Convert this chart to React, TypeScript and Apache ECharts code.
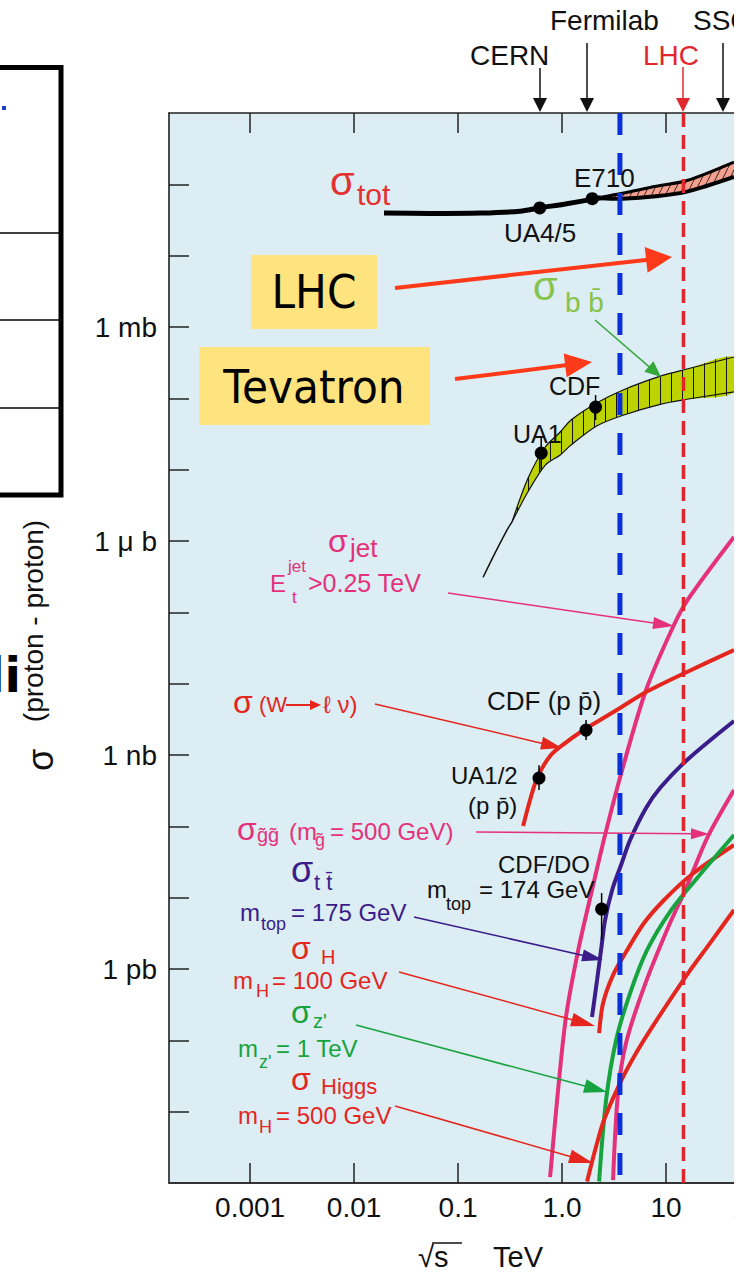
import React, { useEffect, useRef } from 'react';
import * as echarts from 'echarts';

const FONT = "'Liberation Sans', Arial, Helvetica, sans-serif";
const FONT_BOX = "'DejaVu Sans', Verdana, sans-serif";

// ---------- axes ----------
const X_MIN = 1.66e-4;
const X_MAX = 45;
const Y_MIN = 1e-12;
const Y_MAX = 1e3;
const X_TICKS = [0.001, 0.01, 0.1, 1, 10];
const X_TICK_LABELS = ['0.001', '0.01', '0.1', '1.0', '10'];
const Y_TICKS = [1e-11, 1e-10, 1e-9, 1e-8, 1e-7, 1e-6, 1e-5, 1e-4, 1e-3, 1e-2, 1e-1, 1, 10, 100];
const Y_LABEL_VALUES = [1e-9, 1e-6, 1e-3, 1];
const Y_LABELS = ['1 pb', '1 nb', '1 \u03bc b', '1 mb'];

// ---------- vertical reference lines (TeV) ----------
const BLUE_LINE_X = 3.6;
const RED_LINE_X = 14.7;

// ---------- sigma_tot (mb) ----------
const TOT_X = [0.0194, 0.054, 0.166, 0.394, 0.6, 1.07, 1.99, 2.37];
const TOT_Y = [39.6, 39, 39.6, 42, 46.6, 53, 62, 65];
const TOT_BAND_X = [2.37, 3.8, 8.0, 15.9, 45];
const TOT_BAND_UP = [66, 75, 94, 113, 205];
const TOT_BAND_LO = [64, 63, 68, 79, 127];

// ---------- sigma_bb (mb) ----------
const BB_TAIL_X = [0.174, 0.227, 0.296, 0.33];
const BB_TAIL_Y = [3.1e-4, 6.8e-4, 1.43e-3, 1.85e-3];
const BB_X = [0.33, 0.47, 0.69, 0.96, 1.22, 2.15, 3.86, 8.96, 15.9, 45];
const BB_UP = [1.85e-3, 7.6e-3, 2.08e-2, 3.37e-2, 4.97e-2, 8.6e-2, 0.131, 0.206, 0.258, 0.38];
const BB_LO = [1.85e-3, 4.9e-3, 1.16e-2, 1.61e-2, 2.22e-2, 4.1e-2, 5.8e-2, 8.3e-2, 9.7e-2, 0.123];

// ---------- sigma_jet ----------
const JET_X = [0.767, 0.896, 1.09, 1.43, 1.94, 2.59, 3.78, 6.42, 11.9, 16.6, 45];
const JET_Y = [1.21e-12, 1.46e-11, 2.12e-10, 1.84e-9, 1.28e-8, 7.55e-8, 6.16e-7, 8.15e-6, 6.64e-5, 1.59e-4, 1.14e-3];

// ---------- sigma(W -> l nu) ----------
const W_X = [0.422, 0.492, 0.575, 0.767, 1.07, 1.56, 2.32, 3.61, 6.42, 15.9, 45];
const W_Y = [1.01e-7, 2.34e-7, 4.75e-7, 9.7e-7, 1.47e-6, 2.17e-6, 3.09e-6, 4.56e-6, 7.64e-6, 1.46e-5, 2.96e-5];

// ---------- sigma_tt ----------
const TT_X = [1.94, 2.17, 2.37, 2.59, 3.03, 3.69, 4.51, 6.42, 8.75, 15.9, 45];
const TT_Y = [2.12e-10, 7.0e-10, 1.84e-9, 4.86e-9, 1.28e-8, 2.87e-8, 6.43e-8, 1.81e-7, 3.44e-7, 8.51e-7, 3.0e-6];

// ---------- sigma_H (100 GeV) ----------
const H_X = [2.27, 2.48, 3.09, 4.12, 6.14, 9.57, 17.4, 45];
const H_Y = [1.26e-10, 3.33e-10, 8.22e-10, 1.73e-9, 4.41e-9, 9.27e-9, 2.08e-8, 5.47e-8];

// ---------- sigma_Z' ----------
const Z_X = [2.27, 2.65, 3.31, 4.51, 6.56, 11.2, 20.3, 45];
const Z_Y = [1.05e-12, 1.46e-11, 1.01e-10, 4.6e-10, 1.84e-9, 6.71e-9, 1.95e-8, 7.55e-8];

// ---------- sigma_Higgs (500 GeV) ----------
const HG_X = [1.74, 2.08, 2.53, 3.61, 5.15, 7.67, 16.3, 26.5, 45];
const HG_Y = [1.05e-12, 2.9e-12, 7.63e-12, 2.52e-11, 6.63e-11, 1.69e-10, 8.77e-10, 2.31e-9, 6.71e-9];

// ---------- sigma_gluino ----------
const GG_X = [3.09, 3.45, 4.12, 6.14, 10.5, 15.6, 24.8, 45];
const GG_Y = [1.1e-12, 1.82e-11, 9.16e-11, 5.58e-10, 3.88e-9, 1.36e-8, 6.86e-8, 3.23e-7];

// ---------- measured points (UA4/5, E710, UA1, CDF, UA1/2, CDF, CDF/D0) ----------
const PT_X = [0.61, 1.95, 0.63, 2.1, 0.6, 1.7, 2.4];
const PT_Y = [46.6, 63, 1.71e-2, 7.55e-2, 4.75e-7, 2.24e-6, 6.93e-9];
const PT_LO = [46.6, 63, 9.9e-3, 4.97e-2, 3.23e-7, 1.62e-6, 2.55e-9];
const PT_HI = [46.6, 63, 2.78e-2, 0.111, 7.2e-7, 3.09e-6, 1.16e-8];

const PINK = '#E5317B';
const RED = '#E4261F';
const PURPLE = '#3A1C8A';
const GREEN = '#17A33E';

function makeHatch(kind: string): HTMLCanvasElement {
  const c = document.createElement('canvas');
  const g = c.getContext('2d') as CanvasRenderingContext2D;
  if (kind === 'vert') {
    c.width = 11; c.height = 4;
    g.strokeStyle = '#111'; g.lineWidth = 1;
    g.beginPath(); g.moveTo(0.5, 0); g.lineTo(0.5, 4); g.stroke();
  } else {
    c.width = 7; c.height = 14;
    g.strokeStyle = '#3a2020'; g.lineWidth = 1;
    g.beginPath(); g.moveTo(0, 14); g.lineTo(7, 0); g.stroke();
  }
  return c;
}

function findLabel(v: number, vals: number[], labels: string[]) {
  const i = vals.findIndex((t) => Math.abs(Math.log10(t) - Math.log10(v)) < 1e-6);
  return i >= 0 ? labels[i] : '';
}

function lineSeries(X: number[], Y: number[], color: string, width: number, z = 3) {
  return {
    type: 'line',
    data: X.map((x, i) => [x, Y[i]]),
    symbol: 'none',
    showSymbol: false,
    smooth: 0.3,
    lineStyle: { color, width },
    itemStyle: { color },
    clip: true,
    silent: true,
    z,
  };
}

function bandSeries(X: number[], U: number[], L: number[], fill: string, hatch: any, stroke: string, upW: number, loW: number) {
  return {
    type: 'custom',
    silent: true,
    clip: true,
    z: 2,
    data: [[X[0], U[0]]],
    renderItem: (params: any, api: any) => {
      const up = X.map((x, i) => api.coord([x, U[i]]));
      const lo = X.map((x, i) => api.coord([x, L[i]]));
      const poly = up.concat(lo.slice().reverse());
      const children: any[] = [
        { type: 'polygon', shape: { points: poly, smooth: 0.3 }, style: { fill, stroke: 'none' } },
        { type: 'polygon', shape: { points: poly, smooth: 0.3 }, style: { fill: hatch, stroke: 'none' } },
        { type: 'polyline', shape: { points: up, smooth: 0.3 }, style: { stroke, lineWidth: upW, fill: 'none' } },
        { type: 'polyline', shape: { points: lo, smooth: 0.3 }, style: { stroke, lineWidth: loW, fill: 'none' } },
      ];
      return { type: 'group', children };
    },
  };
}

function T(text: string, x: number, y: number, size: number, color: string, o: any = {}) {
  const align = o.align || 'left';
  const el: any = {
    type: 'text',
    x,
    y,
    z: 60,
    silent: true,
    style: {
      text,
      fill: color,
      font: `${o.weight || 'normal'} ${size}px ${o.family || FONT}`,
      align,
      textAlign: align,
      verticalAlign: 'middle',
      textVerticalAlign: 'middle',
    },
  };
  if (o.rotation) el.rotation = o.rotation;
  if (o.scaleX) el.scaleX = o.scaleX;
  return el;
}

function L(x1: number, y1: number, x2: number, y2: number, color: string, w: number) {
  return { type: 'line', z: 60, silent: true, shape: { x1, y1, x2, y2 }, style: { stroke: color, lineWidth: w } };
}

function arrow(x1: number, y1: number, tx: number, ty: number, len: number, half: number, color: string, w: number) {
  const dx = tx - x1, dy = ty - y1;
  const d = Math.hypot(dx, dy);
  const ux = dx / d, uy = dy / d;
  const bx = tx - ux * len, by = ty - uy * len;
  const nx = -uy, ny = ux;
  return [
    L(x1, y1, bx + ux * 2, by + uy * 2, color, w),
    {
      type: 'polygon', z: 60, silent: true,
      shape: { points: [[tx, ty], [bx + nx * half, by + ny * half], [bx - nx * half, by - ny * half]] },
      style: { fill: color },
    },
  ];
}

function vArrow(x: number, y0: number, color: string) {
  return [
    L(x, y0, x, 100, color, 1.5),
    { type: 'polygon', z: 60, silent: true, shape: { points: [[x, 112], [x - 7, 98], [x + 7, 98]] }, style: { fill: color } },
  ];
}

function buildGraphic() {
  const g: any[] = [];
  // left table fragment
  g.push({ type: 'rect', z: 60, silent: true, shape: { x: -10, y: 67.5, width: 71, height: 427.5 }, style: { fill: '#fff', stroke: '#000', lineWidth: 5 } });
  g.push(L(0, 233, 59, 233, '#000', 1.5), L(0, 320, 59, 320, '#000', 1.5), L(0, 408, 59, 408, '#000', 1.5));
  g.push({ type: 'rect', z: 61, silent: true, shape: { x: 2, y: 106, width: 4, height: 4 }, style: { fill: '#1E3EC8' } });
  g.push(T('di', 21, 675, 48, '#000', { align: 'right', family: FONT_BOX, weight: 'bold' }));

  // y axis title
  g.push(T('\u03c3', 40, 760, 36, '#111', { align: 'center', rotation: Math.PI / 2 }));
  g.push(T('(proton - proton)', 33, 621, 28, '#111', { align: 'center', rotation: Math.PI / 2 }));

  // x axis title
  g.push(T('\u221as', 418, 1257, 29, '#111'));
  g.push(L(432, 1243, 462, 1243, '#111', 1.5));
  g.push(T('TeV', 493, 1257, 29, '#111'));
  g.push(T('100', 732, 1208, 28, '#111'));

  // top machine labels and arrows
  g.push(T('CERN', 470, 55, 28, '#111'));
  g.push(T('Fermilab', 550, 20, 28, '#111'));
  g.push(T('LHC', 643, 55, 28, '#E0282E'));
  g.push(T('SSC', 693, 20, 28, '#111'));
  g.push(...vArrow(540, 68, '#111'), ...vArrow(587, 43, '#111'), ...vArrow(683, 67, '#E0282E'), ...vArrow(723, 43, '#111'));

  // sigma_tot
  g.push(T('\u03c3', 330, 181, 40, '#E53030'));
  g.push(T('tot', 357, 194, 30, '#E53030'));
  g.push(T('E710', 574, 178, 26, '#111'));
  g.push(T('UA4/5', 504, 233, 26, '#111'));

  // yellow boxes
  g.push({ type: 'rect', z: 58, silent: true, shape: { x: 251, y: 255, width: 126, height: 74 }, style: { fill: '#FFE37F' } });
  g.push({ type: 'rect', z: 58, silent: true, shape: { x: 199, y: 347, width: 231, height: 78 }, style: { fill: '#FFE37F' } });
  g.push(T('LHC', 314, 292, 47, '#000', { align: 'center', family: FONT_BOX, scaleX: 0.9 }));
  g.push(T('Tevatron', 314, 387, 47, '#000', { align: 'center', family: FONT_BOX, scaleX: 0.9 }));
  g.push(...arrow(395, 288, 672, 257, 26, 13, '#FF3A1A', 4));
  g.push(...arrow(455, 379, 592, 362, 27, 12, '#FF3A1A', 4));

  // sigma_bb
  g.push(T('\u03c3', 533, 286, 40, '#86C34A'));
  g.push(T('b b\u0304', 565, 302, 28, '#86C34A'));
  g.push(...arrow(595, 320, 661, 377, 16, 7, '#35A83A', 1.5));
  g.push(T('CDF', 549, 386, 25, '#111'));
  g.push(T('UA1', 513, 434, 25, '#111'));

  // sigma_jet
  g.push(T('\u03c3', 328, 541, 32, PINK));
  g.push(T('jet', 350, 548, 26, PINK));
  g.push(T('E', 270, 583, 24, PINK));
  g.push(T('jet', 288, 566, 17, PINK));
  g.push(T('t', 292, 597, 17, PINK));
  g.push(T('>0.25 TeV', 308, 583, 25, PINK));
  g.push(...arrow(448, 593, 674, 626, 21, 6, PINK, 1.5));

  // sigma W
  g.push(T('\u03c3', 233, 702, 32, RED));
  g.push(T('(W', 259, 704, 22, RED));
  g.push(...arrow(286, 705, 321, 705, 11, 5, RED, 2));
  g.push(T('\u2113 \u03bd)', 323, 704, 24, RED));
  g.push(...arrow(375, 704, 562, 748, 21, 6.5, RED, 1.5));
  g.push(T('CDF (p p\u0304)', 487, 701, 26, '#111'));
  g.push(T('UA1/2', 451, 775, 24, '#111'));
  g.push(T('(p p\u0304)', 468, 805, 24, '#111'));

  // sigma gluino
  g.push(T('\u03c3', 237, 829, 32, PINK));
  g.push(T('g\u0303g\u0303', 257, 835, 20, PINK));
  g.push(T('(m', 289, 831, 24, PINK));
  g.push(T('g\u0303', 315, 840, 18, PINK));
  g.push(T('= 500 GeV)', 330, 831, 24, PINK));
  g.push(...arrow(476, 832, 709, 834, 18, 5.5, PINK, 1.5));

  // CDF/D0 top
  g.push(T('CDF/DO', 498, 864, 24, '#111'));
  g.push(T('m', 427, 889, 24, '#111'));
  g.push(T('top', 446, 904, 18, '#111'));
  g.push(T('= 174 GeV', 479, 889, 24, '#111'));

  // sigma tt
  g.push(T('\u03c3', 291, 869, 36, PURPLE));
  g.push(T('t t\u0304', 314, 882, 22, PURPLE));
  g.push(T('m', 240, 912, 24, PURPLE));
  g.push(T('top', 261, 924, 18, PURPLE));
  g.push(T('= 175 GeV', 291, 912, 24, PURPLE));
  g.push(...arrow(414, 917, 603, 960, 21, 6, PURPLE, 1.5));

  // sigma H (100 GeV)
  g.push(T('\u03c3', 291, 948, 32, RED));
  g.push(T('H', 321, 957, 20, RED));
  g.push(T('m', 233, 980, 24, RED));
  g.push(T('H', 256, 991, 18, RED));
  g.push(T('= 100 GeV', 272, 980, 24, RED));
  g.push(...arrow(399, 972, 595, 1026, 24, 7, RED, 1.5));

  // sigma Z'
  g.push(T('\u03c3', 291, 1012, 32, GREEN));
  g.push(T("z'", 313, 1021, 20, GREEN));
  g.push(T('m', 238, 1048, 24, GREEN));
  g.push(T("z'", 259, 1062, 18, GREEN));
  g.push(T('= 1 TeV', 276, 1048, 24, GREEN));
  g.push(...arrow(356, 1025, 607, 1092, 23, 7, GREEN, 1.5));

  // sigma Higgs (500 GeV)
  g.push(T('\u03c3', 291, 1079, 32, RED));
  g.push(T('Higgs', 321, 1086, 22, RED));
  g.push(T('m', 238, 1115, 24, RED));
  g.push(T('H', 259, 1127, 18, RED));
  g.push(T('= 500 GeV', 276, 1115, 24, RED));
  g.push(...arrow(395, 1106, 593, 1163, 24, 7, RED, 1.5));

  return g;
}

export default function App() {
  const ref = useRef<HTMLDivElement>(null);
  useEffect(() => {
    const el = ref.current as HTMLDivElement;
    const chart = echarts.init(el, undefined, { renderer: 'svg' });
    const hatchDiag = { image: makeHatch('diag'), repeat: 'repeat', imageWidth: 7, imageHeight: 14 };
    const hatchVert = { image: makeHatch('vert'), repeat: 'repeat', imageWidth: 11, imageHeight: 4 };

    const xAxisBase = {
      type: 'log',
      min: X_MIN,
      max: X_MAX,
      splitLine: { show: false },
      axisPointer: { show: false },
    };

    const option: any = {
      animation: false,
      backgroundColor: '#ffffff',
      textStyle: { fontFamily: FONT },
      grid: {
        left: 169, top: 113, right: 0, bottom: 92,
        show: true, backgroundColor: '#DCEDF3', borderWidth: 0, borderColor: 'transparent',
        containLabel: false, outerBoundsMode: 'none',
      },
      xAxis: [
        {
          ...xAxisBase,
          position: 'bottom',
          axisLine: { show: true, onZero: false, lineStyle: { color: '#333', width: 2 } },
          axisTick: { show: true, inside: true, length: 20, customValues: X_TICKS, lineStyle: { color: '#222', width: 1.5 } },
          axisLabel: {
            show: true, customValues: X_TICKS, margin: 10, fontSize: 28, fontFamily: FONT, color: '#111',
            formatter: (v: number) => findLabel(v, X_TICKS, X_TICK_LABELS),
          },
        },
        {
          ...xAxisBase,
          position: 'top',
          axisLine: { show: true, onZero: false, lineStyle: { color: '#222', width: 1.5 } },
          axisTick: { show: true, inside: true, length: 20, customValues: X_TICKS, lineStyle: { color: '#222', width: 1.5 } },
          axisLabel: { show: false },
        },
      ],
      yAxis: {
        type: 'log',
        min: Y_MIN,
        max: Y_MAX,
        splitLine: { show: false },
        axisLine: { show: true, onZero: false, lineStyle: { color: '#111', width: 1.5 } },
        axisTick: { show: true, inside: true, length: 20, customValues: Y_TICKS, lineStyle: { color: '#222', width: 1.5 } },
        axisLabel: {
          show: true, customValues: Y_LABEL_VALUES, margin: 12, fontSize: 28, fontFamily: FONT, color: '#111',
          formatter: (v: number) => findLabel(v, Y_LABEL_VALUES, Y_LABELS),
        },
      },
      series: [
        bandSeries(BB_X, BB_UP, BB_LO, '#BCD300', hatchVert, '#111', 1.2, 1.2),
        bandSeries(TOT_BAND_X, TOT_BAND_UP, TOT_BAND_LO, '#F3A08E', hatchDiag, '#000', 3, 4),
        lineSeries(TOT_X, TOT_Y, '#000', 5),
        lineSeries(BB_TAIL_X, BB_TAIL_Y, '#111', 1.5),
        lineSeries(JET_X, JET_Y, PINK, 4),
        lineSeries(GG_X, GG_Y, PINK, 4),
        lineSeries(W_X, W_Y, RED, 4),
        lineSeries(TT_X, TT_Y, PURPLE, 4),
        lineSeries(H_X, H_Y, RED, 4),
        lineSeries(Z_X, Z_Y, GREEN, 4),
        lineSeries(HG_X, HG_Y, RED, 4),
        {
          type: 'line', silent: true, symbol: 'none', z: 5, clip: true,
          data: [[BLUE_LINE_X, Y_MAX], [BLUE_LINE_X, Y_MIN]],
          lineStyle: { color: '#0B2FD8', width: 5, type: [22, 18] },
        },
        {
          type: 'line', silent: true, symbol: 'none', z: 5, clip: true,
          data: [[RED_LINE_X, Y_MAX], [RED_LINE_X, Y_MIN]],
          lineStyle: { color: '#E0262C', width: 3.5, type: [14, 8] },
        },
        {
          type: 'custom', silent: true, clip: true, z: 8,
          data: PT_X.map((x, i) => [x, PT_Y[i], PT_LO[i], PT_HI[i]]),
          renderItem: (params: any, api: any) => {
            const x = api.value(0), y = api.value(1), lo = api.value(2), hi = api.value(3);
            const c = api.coord([x, y]);
            const a = api.coord([x, lo]);
            const b = api.coord([x, hi]);
            return {
              type: 'group',
              children: [
                { type: 'line', shape: { x1: a[0], y1: a[1], x2: b[0], y2: b[1] }, style: { stroke: '#000', lineWidth: 1.5 } },
                { type: 'circle', shape: { cx: c[0], cy: c[1], r: 6.5 }, style: { fill: '#000' } },
              ],
            };
          },
        },
      ],
      graphic: buildGraphic(),
    };
    chart.setOption(option);
    return () => chart.dispose();
  }, []);
  return <div ref={ref} style={{ position: 'absolute', left: 0, top: 0, width: 734, height: 1275, background: '#fff' }} />;
}
